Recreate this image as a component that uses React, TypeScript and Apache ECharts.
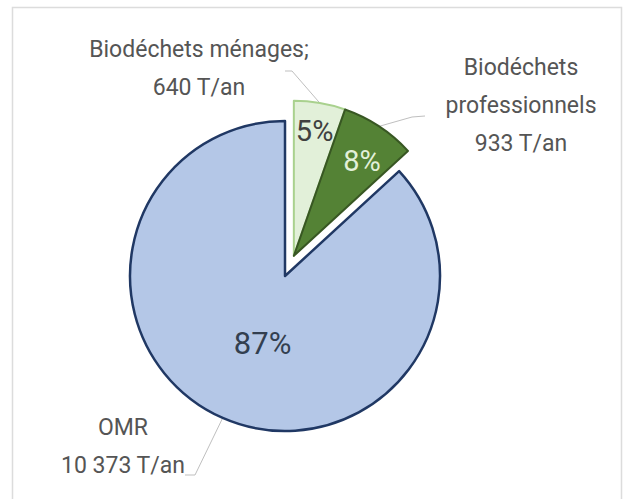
import React, { useEffect, useRef } from 'react';
import * as echarts from 'echarts';

// ---- data ----
const categories = ['Biodéchets ménages', 'Biodéchets professionnels', 'OMR'];
const labelNames = ['Biodéchets ménages;', 'Biodéchets\nprofessionnels', 'OMR'];
const tonnages = [640, 933, 10373];
const exploded = [true, true, false];
const unit = 'T/an';

// ---- styles ----
const FONT = "Roboto, 'Liberation Sans', sans-serif";
const SLICE_STYLES = [
  { color: '#e2f0d9', borderColor: '#a9d18e', borderWidth: 2 },
  { color: '#548235', borderColor: '#385723', borderWidth: 2 },
  { color: '#b4c7e7', borderColor: '#203864', borderWidth: 2.5 },
];
const PCT_COLORS = ['#404040', '#e2f0d9', '#333f50'];
const PCT_OFFSETS = [[0, -3], [0, 9], [10, -6]];
const CENTER = [285, 276];
const R = 155;
const EXPLODE = 22;

// label placement (text block centre + leader bend/end)
const LABEL_LAYOUT = [
  { x: 199, y: 68, bend: [292, 71], end: [285, 71] },
  { x: 521, y: 105, bend: [412, 117], end: [425, 116] },
  { x: 123, y: 446, bend: [195, 475], end: [185, 475] },
];

const fmtNum = (v: number) => String(v).replace(/\B(?=(\d{3})+(?!\d))/g, ' ');
const transparent = { color: 'rgba(0,0,0,0)', borderWidth: 0, borderColor: 'rgba(0,0,0,0)' };

export default function App() {
  const ref = useRef<HTMLDivElement>(null);
  useEffect(() => {
    document.body.style.margin = '0';
    if (!ref.current) return;
    const chart = echarts.init(ref.current, undefined, { renderer: 'svg' });

    // explosion vector of the exploded group, along its mid-angle
    const total = tonnages.reduce((a, b) => a + b, 0);
    const explodedSum = tonnages.reduce((a, v, i) => a + (exploded[i] ? v : 0), 0);
    const midDeg = 90 - ((explodedSum / 2) / total) * 360;
    const ex = Math.cos((midDeg * Math.PI) / 180) * EXPLODE;
    const ey = -Math.sin((midDeg * Math.PI) / 180) * EXPLODE;
    const CENTER2 = [CENTER[0] + ex, CENTER[1] + ey];

    const base = {
      type: 'pie' as const,
      startAngle: 90,
      clockwise: true,
      avoidLabelOverlap: false,
      emphasis: { disabled: true },
      silent: true,
    };
    const pctFmt = (p: any) => `${Math.round(p.percent)}%`;

    chart.setOption({
      animation: false,
      backgroundColor: '#ffffff',
      graphic: [
        {
          type: 'rect',
          shape: { x: 12.5, y: 7.5, width: 609, height: 520 },
          style: { fill: 'none', stroke: '#dcdcdc', lineWidth: 1.5 },
          silent: true,
          z: 0,
        },
      ],
      series: [
        // remaining slice (OMR) + its percentage
        {
          ...base,
          name: 'omr',
          center: CENTER,
          radius: R,
          data: categories.map((c, i) => ({
            name: c,
            value: tonnages[i],
            itemStyle: exploded[i] ? transparent : SLICE_STYLES[i],
            label: { show: !exploded[i], offset: PCT_OFFSETS[i] },
          })),
          label: {
            position: 'inside',
            formatter: pctFmt,
            fontFamily: FONT,
            fontSize: 31,
            color: PCT_COLORS[2],
          },
          labelLine: { show: false },
        },
        // exploded slices
        {
          ...base,
          name: 'exploded',
          center: CENTER2,
          radius: R,
          data: categories.map((c, i) => ({
            name: c,
            value: tonnages[i],
            itemStyle: exploded[i] ? SLICE_STYLES[i] : transparent,
          })),
          label: { show: false },
          labelLine: { show: false },
        },
        // percentages of exploded slices
        {
          ...base,
          name: 'pctSmall',
          center: CENTER2,
          radius: [R * 0.56, R],
          data: categories.map((c, i) => ({
            name: c,
            value: tonnages[i],
            itemStyle: transparent,
            label: { show: exploded[i], color: PCT_COLORS[i], offset: PCT_OFFSETS[i] },
          })),
          label: {
            position: 'inside',
            formatter: pctFmt,
            fontFamily: FONT,
            fontSize: 29,
          },
          labelLine: { show: false },
        },
        // category labels with leader lines
        {
          ...base,
          name: 'names',
          center: CENTER,
          radius: R,
          data: categories.map((c, i) => ({
            name: c,
            value: tonnages[i],
            itemStyle: transparent,
          })),
          label: {
            show: true,
            position: 'outside',
            formatter: (p: any) => `${labelNames[p.dataIndex]}\n${fmtNum(p.value)} ${unit}`,
            fontFamily: FONT,
            fontSize: 23,
            lineHeight: 38,
            color: '#555555',
            align: 'center',
          },
          labelLine: { show: true, lineStyle: { color: '#bfbfbf', width: 1 } },
          labelLayout: (params: any) => {
            const i = params.dataIndex;
            const L = LABEL_LAYOUT[i];
            let p0 = L.bend;
            if (params.labelLinePoints) {
              const q = params.labelLinePoints[0];
              p0 = exploded[i] ? [q[0] + ex, q[1] + ey] : [q[0], q[1]];
            }
            return {
              x: L.x,
              y: L.y,
              align: 'center',
              verticalAlign: 'middle',
              labelLinePoints: [p0, L.bend, L.end],
            };
          },
        },
      ],
    });
    return () => chart.dispose();
  }, []);
  return <div ref={ref} style={{ width: 624, height: 499 }} />;
}
